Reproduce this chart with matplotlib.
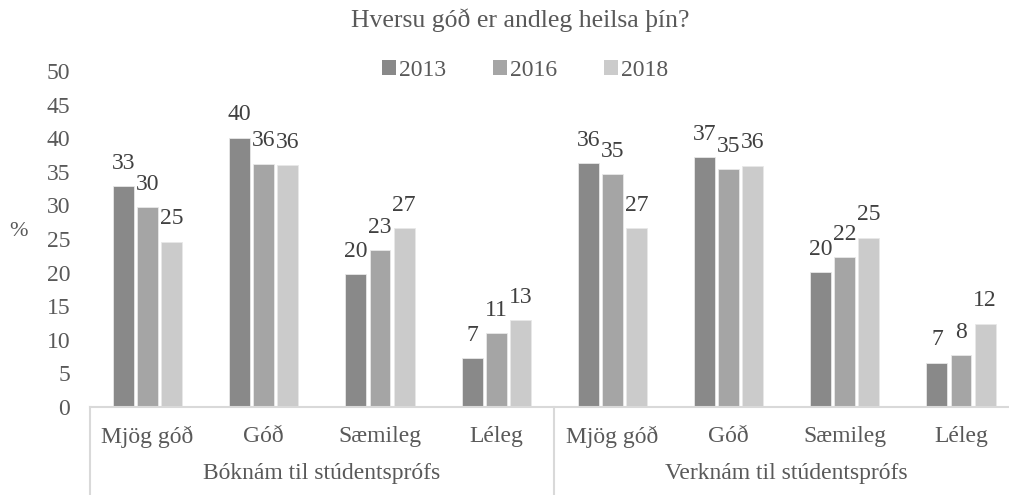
import numpy as np
import matplotlib
matplotlib.use("Agg")
import matplotlib.pyplot as plt
import matplotlib.transforms as mtransforms
from matplotlib.patches import Patch

plt.rcParams['font.family'] = ['Liberation Serif', 'DejaVu Serif']

title = "Hversu góð er andleg heilsa þín?"
categories = ["Mjög góð", "Góð", "Sæmileg", "Léleg"]
groups = ["Bóknám til stúdentsprófs", "Verknám til stúdentsprófs"]
years = ["2013", "2016", "2018"]
colors = ["#898989", "#a5a5a5", "#cbcbcb"]

# values: Bóknám (4 categories) followed by Verknám (4 categories)
v2013 = [32.9, 40.1, 19.8, 7.3, 36.3, 37.2, 20.1, 6.6]
v2016 = [29.7, 36.2, 23.3, 11.0, 34.6, 35.4, 22.3, 7.7]
v2018 = [24.6, 36.0, 26.6, 12.9, 26.6, 35.9, 25.2, 12.4]
series = [v2013, v2016, v2018]
yticks = [0, 5, 10, 15, 20, 25, 30, 35, 40, 45, 50]

W, H = 1009, 495
fig = plt.figure(figsize=(W / 100, H / 100), dpi=100)
ax = fig.add_axes([89.5 / W, (H - 407) / H, 929.6 / W, 336 / H])

n = len(categories) * len(groups)
x = np.arange(n)
step = 0.207
bw = 0.18
FS = 17
TXT = "#595959"
for i, (vals, col, yr) in enumerate(zip(series, colors, years)):
    xs = x + (i - 1) * step
    ax.bar(xs, vals, width=bw, color=col, edgecolor="#e8e8e8", linewidth=0.6, label=yr, zorder=2)
    for xi, v in zip(xs, vals):
        ax.annotate(f"{v:.0f}", (xi, v), xytext=(0, 12.5), textcoords="offset points",
                    ha="center", va="baseline", fontsize=FS, color="#404040")

ax.set_xlim(-0.5, n - 0.5)
ax.set_ylim(0, 50)
ax.set_yticks(yticks)
ax.tick_params(axis="y", length=0, pad=14, labelsize=FS, labelcolor=TXT)
ax.set_xticks([])
for s in ["top", "right", "left"]:
    ax.spines[s].set_visible(False)
ax.spines["bottom"].set_color("#d9d9d9")
ax.spines["bottom"].set_linewidth(1.5)

trans = mtransforms.blended_transform_factory(ax.transData, ax.transAxes)
labels_all = categories * len(groups)
for xi, lab in zip(x, labels_all):
    ax.text(xi, -0.089, lab, transform=trans, ha="center", va="center",
            fontsize=FS, color=TXT)
for gi, g in enumerate(groups):
    cx = gi * len(categories) + (len(categories) - 1) / 2
    ax.text(cx, -0.199, g, transform=trans, ha="center", va="center",
            fontsize=FS, color=TXT)
for gi in range(len(groups) + 1):
    sx = gi * len(categories) - 0.5
    ax.plot([sx, sx], [0, -0.26], transform=trans, color="#d9d9d9", lw=1.5, clip_on=False)

fig.text(19 / W, 1 - 232 / H, "%", ha="center", va="center", fontsize=16, color=TXT)
fig.text(520 / W, 1 - 20 / H, title, ha="center", va="center", fontsize=18.5, color=TXT)

handles = [Patch(facecolor=c, edgecolor="none") for c in colors]
fig.legend(handles, years, loc="center", bbox_to_anchor=(525 / W, 1 - 70 / H), ncol=3,
           frameon=False, fontsize=FS, handlelength=0.6, handleheight=0.6,
           handletextpad=0.1, columnspacing=2.0, labelcolor=TXT)

fig.savefig("out.png", dpi=100)
